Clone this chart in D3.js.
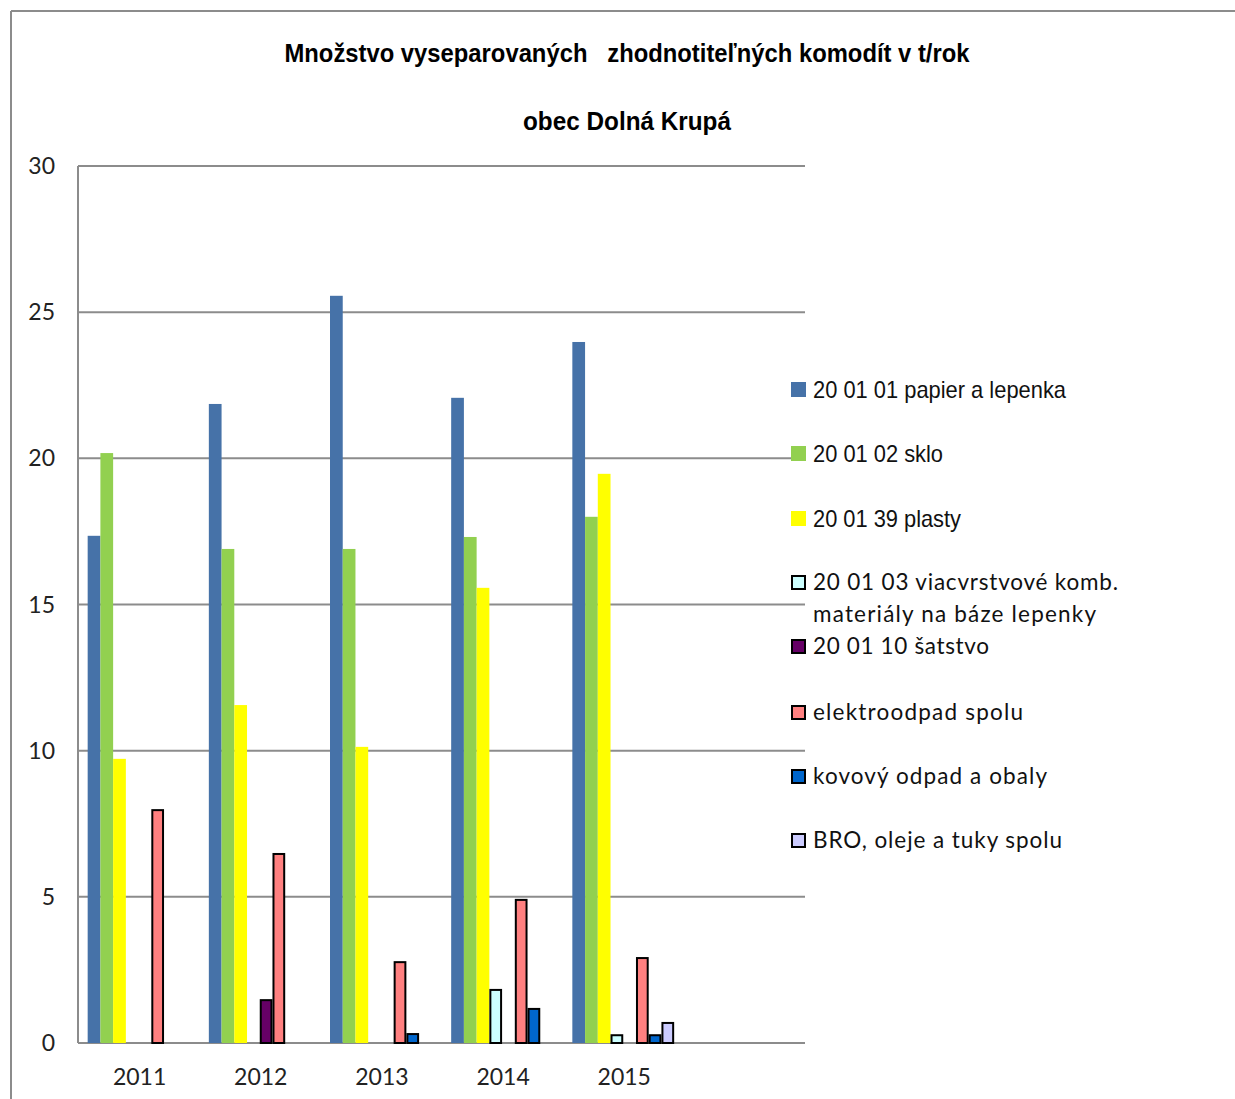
<!DOCTYPE html>
<html>
<head>
<meta charset="utf-8">
<script src="https://cdn.jsdelivr.net/npm/d3@7"></script>
<style>
  body { margin: 0; background: #fff; }
  svg { display: block; }
</style>
</head>
<body>
<svg id="chart" width="1235" height="1099"></svg>
<script>
// categories (last slot is an empty category, as in the original sheet)
var years = ["2011", "2012", "2013", "2014", "2015", ""];

var seriesNames = [
  "20 01 01 papier a lepenka",
  "20 01 02 sklo",
  "20 01 39 plasty",
  "20 01 03 viacvrstvové komb. materiály na báze lepenky",
  "20 01 10 šatstvo",
  "elektroodpad spolu",
  "kovový odpad a obaly",
  "BRO, oleje a tuky spolu"
];

var papier    = [17.35, 21.86, 25.56, 22.07, 23.98];
var sklo      = [20.18, 16.9, 16.9, 17.31, 18.0];
var plasty    = [9.72, 11.56, 10.13, 15.57, 19.47];
var viacvrst  = [null, null, null, 1.85, 0.3];
var satstvo   = [null, 1.5, null, null, null];
var elektro   = [8.0, 6.5, 2.8, 4.93, 2.94];
var kovovy    = [null, null, 0.34, 1.2, 0.3];
var bro       = [null, null, null, null, 0.72];

var yTicks = [0, 5, 10, 15, 20, 25, 30];

var seriesValues = [papier, sklo, plasty, viacvrst, satstvo, elektro, kovovy, bro];
var colors = ["#4672A8", "#92D050", "#FFFF00", "#CCFFFF", "#660066", "#FF8080", "#0066CC", "#CCCCFF"];
var outlined = [false, false, false, true, true, true, true, true];

var svg = d3.select("svg#chart");
var gridColor = "#8c8c8c";

// outer frame (only top and left visible in crop)
svg.append("line").attr("x1", 11).attr("y1", 11).attr("x2", 1235).attr("y2", 11)
  .attr("stroke", gridColor).attr("stroke-width", 2);
svg.append("line").attr("x1", 11).attr("y1", 11).attr("x2", 11).attr("y2", 1099)
  .attr("stroke", gridColor).attr("stroke-width", 2);

// title
svg.append("text")
  .attr("x", 627).attr("y", 62)
  .attr("text-anchor", "middle")
  .attr("textLength", 685).attr("lengthAdjust", "spacingAndGlyphs")
  .style("white-space", "pre")
  .style("font-family", "'Liberation Sans', Arial, sans-serif")
  .style("font-weight", "bold").style("font-size", "26px")
  .text("Množstvo vyseparovaných   zhodnotiteľných komodít v t/rok");

svg.append("text")
  .attr("x", 627).attr("y", 130)
  .attr("text-anchor", "middle")
  .attr("textLength", 208).attr("lengthAdjust", "spacingAndGlyphs")
  .style("font-family", "'Liberation Sans', Arial, sans-serif")
  .style("font-weight", "bold").style("font-size", "26px")
  .text("obec Dolná Krupá");

// scales
var x0 = d3.scaleBand().domain(years.map(function(d, i) { return i; })).range([78, 805]).padding(0);
var x1 = d3.scaleBand().domain(d3.range(seriesNames.length))
  .range([0, x0.bandwidth()]).paddingInner(0).paddingOuter(0.76);
var y = d3.scaleLinear().domain([0, 30]).range([1043, 166]);

// gridlines
svg.append("g").selectAll("line")
  .data(yTicks).enter().append("line")
  .attr("x1", 78).attr("x2", 805)
  .attr("y1", function(d) { return y(d); })
  .attr("y2", function(d) { return y(d); })
  .attr("stroke", gridColor).attr("stroke-width", 2);

// y axis line
svg.append("line").attr("x1", 78).attr("x2", 78).attr("y1", y(30)).attr("y2", y(0))
  .attr("stroke", gridColor).attr("stroke-width", 2);

// y labels
svg.append("g").selectAll("text")
  .data(yTicks).enter().append("text")
  .attr("x", 55).attr("y", function(d) { return y(d) + 8; })
  .attr("text-anchor", "end")
  .style("font-family", "Lato, 'Open Sans', sans-serif")
  .style("font-size", "23px").style("fill", "#222")
  .text(function(d) { return d; });

// x labels
svg.append("g").selectAll("text")
  .data(years).enter().append("text")
  .attr("x", function(d, i) { return x0(i) + x0.bandwidth() / 2 + 1; })
  .attr("y", 1085)
  .attr("text-anchor", "middle")
  .style("font-family", "Lato, 'Open Sans', sans-serif")
  .style("font-size", "23px").style("fill", "#222")
  .text(function(d) { return d; });

// bars
var barData = [];
seriesValues.forEach(function(vals, s) {
  vals.forEach(function(v, i) {
    if (v !== null) barData.push({ s: s, i: i, v: v });
  });
});

svg.append("g").selectAll("rect")
  .data(barData).enter().append("rect")
  .attr("x", function(d) { return x0(d.i) + x1(d.s) + (outlined[d.s] ? 1 : 0); })
  .attr("width", function(d) { return x1.bandwidth() - (outlined[d.s] ? 2 : 0); })
  .attr("y", function(d) { return y(d.v) + (outlined[d.s] ? 1 : 0); })
  .attr("height", function(d) { return y(0) - y(d.v) - (outlined[d.s] ? 1 : 0); })
  .attr("fill", function(d) { return colors[d.s]; })
  .attr("stroke", function(d) { return outlined[d.s] ? "#000" : "none"; })
  .attr("stroke-width", 2);

// legend
var legendY = [389, 453, 518, 582, 646, 712, 776, 840];
var narrow = [true, true, true, false, false, false, false, false];
var legendWidths = [253, 130, 148, 305, 176, 210, 234, 249];

function legendText(txt, x, yy, len, isNarrow) {
  legend.append("text")
    .attr("x", x).attr("y", yy)
    .attr("textLength", len)
    .attr("lengthAdjust", isNarrow ? "spacingAndGlyphs" : "spacing")
    .style("font-family", isNarrow ? "'Liberation Sans', Arial, sans-serif" : "Lato, 'Open Sans', sans-serif")
    .style("font-size", isNarrow ? "24px" : "22.5px").style("fill", "#111")
    .text(txt);
}

var legend = svg.append("g").attr("class", "legend");
seriesNames.forEach(function(name, s) {
  var cy = legendY[s];
  legend.append("rect")
    .attr("x", outlined[s] ? 792 : 791).attr("y", cy - 7 + (outlined[s] ? 1 : 0))
    .attr("width", outlined[s] ? 13 : 15).attr("height", outlined[s] ? 13 : 15)
    .attr("fill", colors[s])
    .attr("stroke", outlined[s] ? "#000" : "none")
    .attr("stroke-width", 2);

  if (s === 3) {
    legendText("20 01 03 viacvrstvové komb.", 813, cy + 8, legendWidths[s], false);
    legendText("materiály na báze lepenky", 813, cy + 40, 283, false);
  } else {
    legendText(name, 813, cy + (narrow[s] ? 9 : 8), legendWidths[s], narrow[s]);
  }
});
</script>
</body>
</html>
